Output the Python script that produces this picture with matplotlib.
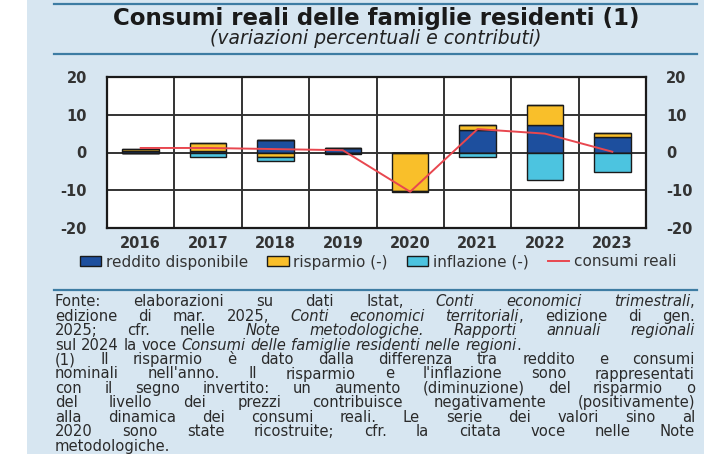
import matplotlib
matplotlib.use('Agg')
import matplotlib.pyplot as plt
import numpy as np
from matplotlib.patches import Patch, Rectangle
from matplotlib.lines import Line2D

plt.rcParams['axes.unicode_minus'] = False

# dati
anni = ['2016', '2017', '2018', '2019', '2020', '2021', '2022', '2023']
reddito = [0.5, 0.3, 3.3, 1.1, 0.0, 5.9, 7.4, 4.1]
risparmio = [0.5, 2.1, -1.2, -0.2, -10.2, 1.5, 5.1, 1.1]
inflazione = [-0.1, -1.1, -1.1, -0.3, -0.2, -1.2, -7.2, -5.1]
consumi = [1.2, 1.2, 0.9, 0.6, -10.4, 6.2, 5.0, 0.2]
yticks = [-20, -10, 0, 10, 20]

titolo = 'Consumi reali delle famiglie residenti (1)'
sottotitolo = '(variazioni percentuali e contributi)'
etichette = ['reddito disponibile', 'risparmio (-)', 'inflazione (-)', 'consumi reali']

# '*' apre/chiude il corsivo; '|' = ultima riga del paragrafo (non giustificata)
nota = [
    'Fonte: elaborazioni su dati Istat, *Conti economici trimestrali*,',
    'edizione di mar. 2025, *Conti economici territoriali*, edizione di gen.',
    '2025; cfr. nelle *Note metodologiche. Rapporti annuali regionali*',
    '|sul 2024 la voce *Consumi delle famiglie residenti nelle regioni*.',
    '(1) Il risparmio è dato dalla differenza tra reddito e consumi',
    "nominali nell'anno. Il risparmio e l'inflazione sono rappresentati",
    'con il segno invertito: un aumento (diminuzione) del risparmio o',
    'del livello dei prezzi contribuisce negativamente (positivamente)',
    'alla dinamica dei consumi reali. Le serie dei valori sino al',
    '2020 sono state ricostruite; cfr. la citata voce nelle Note',
    '|metodologiche.',
]

c_red = '#1d4f9e'
c_ris = '#f9bf2a'
c_inf = '#4cc4e0'
c_con = '#e8474f'
bg = '#d7e6f1'
rule = '#3d7ca3'
txt = '#333333'

W, H = 704, 454
fig = plt.figure(figsize=(W / 100, H / 100), dpi=100)
fig.patch.set_facecolor('white')
fig.patches.append(Rectangle((27 / W, 0), 1, 1, transform=fig.transFigure,
                             facecolor=bg, edgecolor='none', zorder=-5))
for yy in (4, 54, 290):
    fig.add_artist(Line2D([54 / W, 697 / W], [1 - yy / H, 1 - yy / H],
                          color=rule, lw=1.6, transform=fig.transFigure))

fig.text(376 / W, 1 - 18 / H, titolo, ha='center', va='center',
         fontsize=16.5, fontweight='bold', color='#1a1a1a')
fig.text(376 / W, 1 - 38 / H, sottotitolo, ha='center', va='center',
         fontsize=13.5, style='italic', color='#222222')

ax = fig.add_axes([107 / W, 1 - 228 / H, (646 - 107) / W, (228 - 77) / H])
ax.set_facecolor('white')
x = np.arange(len(anni))
serie = [np.array(reddito), np.array(risparmio), np.array(inflazione)]
colori = [c_red, c_ris, c_inf]
pos_b = np.zeros(len(anni))
neg_b = np.zeros(len(anni))
for vals, col in zip(serie, colori):
    p = np.where(vals > 0, vals, 0)
    n = np.where(vals < 0, vals, 0)
    ax.bar(x, p, 0.54, bottom=pos_b, color=col, edgecolor='#1a1a1a', lw=1.0, zorder=3)
    ax.bar(x, n, 0.54, bottom=neg_b, color=col, edgecolor='#1a1a1a', lw=1.0, zorder=3)
    pos_b += p
    neg_b += n
ax.plot(x, consumi, color=c_con, lw=1.4, zorder=4)

ax.set_xlim(-0.5, len(anni) - 0.5)
ax.set_ylim(-20, 20)
ax.set_yticks(yticks)
ax.set_xticks(x)
ax.set_xticklabels(anni)
ax.set_xticks(np.arange(0.5, len(anni) - 0.5), minor=True)
ax.grid(True, which='minor', axis='x', color='#333333', lw=1.4, zorder=1)
ax.grid(True, which='major', axis='y', color='#333333', lw=1.4, zorder=1)
ax.tick_params(axis='y', which='both', left=False, right=False,
               labelleft=True, labelright=True, pad=11,
               labelsize=10.5, labelcolor=txt)
ax.tick_params(axis='x', which='both', bottom=False, pad=2,
               labelsize=10.5, labelcolor=txt)
for lab in ax.get_xticklabels() + ax.get_yticklabels():
    lab.set_fontweight('bold')
for t in ax.yaxis.get_major_ticks():
    t.label2.set_fontweight('bold')
for s in ax.spines.values():
    s.set_color('#1a1a1a')
    s.set_linewidth(1.6)

handles = [Patch(facecolor=c_red, edgecolor='#1a1a1a', lw=1.0),
           Patch(facecolor=c_ris, edgecolor='#1a1a1a', lw=1.0),
           Patch(facecolor=c_inf, edgecolor='#1a1a1a', lw=1.0),
           Line2D([], [], color=c_con, lw=1.4)]
fig.legend(handles, etichette, loc='center', bbox_to_anchor=(378 / W, 1 - 262 / H),
           ncol=4, frameon=False, fontsize=11, handlelength=1.4, handleheight=0.55,
           handletextpad=0.3, columnspacing=1.25, labelcolor=txt)

# nota giustificata
renderer = fig.canvas.get_renderer()
x0, x1 = 55, 695
fs = 10.6
sp = fig.text(0, 0, 'a a', fontsize=fs).get_window_extent(renderer).width - \
    fig.text(0, 0, 'aa', fontsize=fs).get_window_extent(renderer).width
for t in fig.texts[-2:]:
    t.remove()
corsivo = False
for i, riga in enumerate(nota):
    giust = True
    if riga.startswith('|'):
        giust = False
        riga = riga[1:]
    parole = []
    for w in riga.split(' '):
        pezzi = []
        cur = ''
        for ch in w:
            if ch == '*':
                if cur:
                    pezzi.append((cur, corsivo))
                cur = ''
                corsivo = not corsivo
            else:
                cur += ch
        if cur:
            pezzi.append((cur, corsivo))
        parole.append(pezzi)
    y = 1 - (302 + i * 14.4) / H
    oggetti = []
    larg = []
    for pezzi in parole:
        ogg = []
        lw_ = 0
        for s, it in pezzi:
            t = fig.text(0, y, s, fontsize=fs, style='italic' if it else 'normal',
                         color='#2a2a2a', va='center', ha='left')
            wpx = t.get_window_extent(renderer).width
            ogg.append((t, wpx))
            lw_ += wpx
        oggetti.append(ogg)
        larg.append(lw_)
    if giust and len(parole) > 1:
        gap = (x1 - x0 - sum(larg)) / (len(parole) - 1)
    else:
        gap = sp
    xc = x0
    for ogg, lw_ in zip(oggetti, larg):
        xx = xc
        for t, wpx in ogg:
            t.set_x(xx / W)
            xx += wpx
        xc += lw_ + gap

fig.savefig('out.png', dpi=100, facecolor=fig.get_facecolor())
